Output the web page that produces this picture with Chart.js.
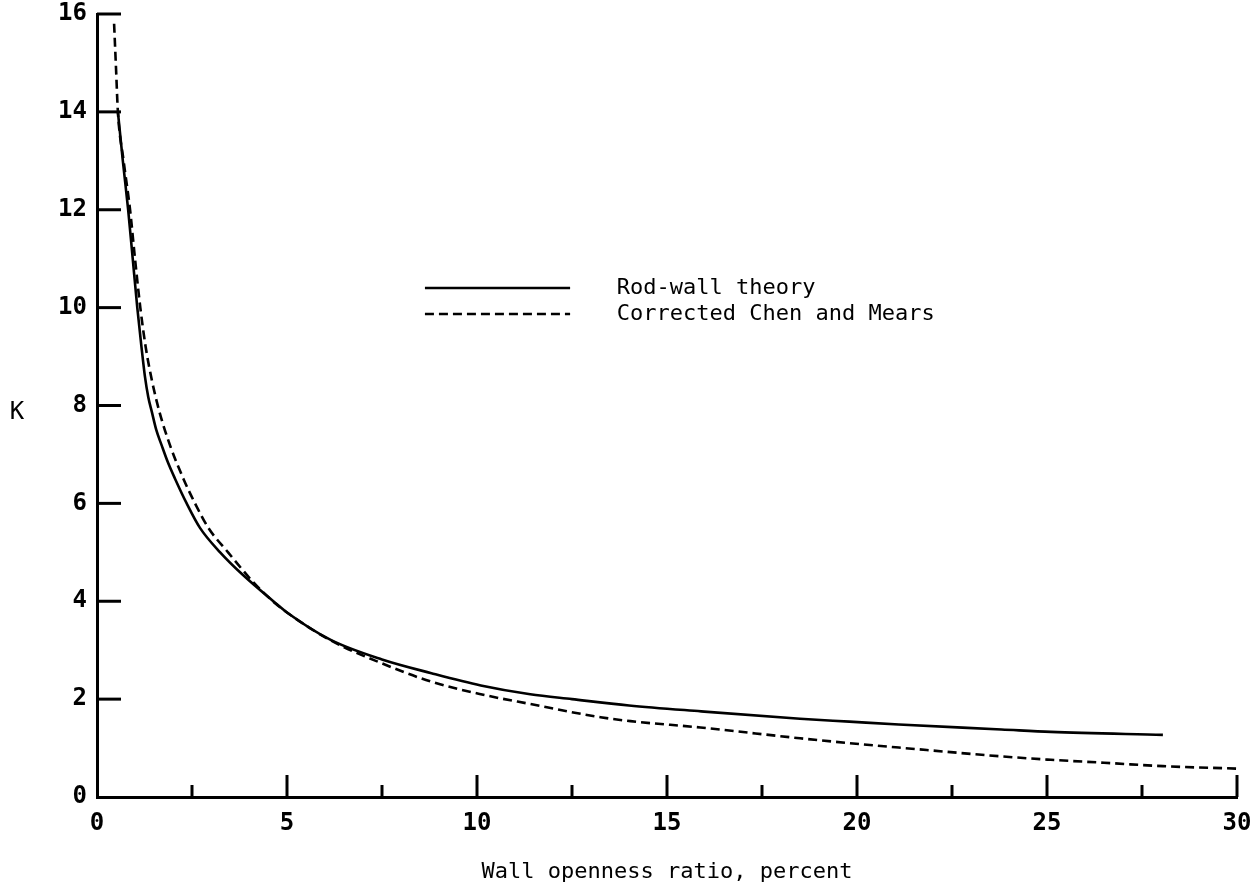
<!DOCTYPE html>
<html>
<head>
<meta charset="utf-8">
<script src="https://cdn.jsdelivr.net/npm/chart.js@4.4.1/dist/chart.umd.min.js"></script>
<style>
  html, body { margin: 0; padding: 0; background: #fff; }
  #wrap { width: 1255px; height: 885px; position: relative; }
</style>
</head>
<body>
<div id="wrap"><canvas id="c" width="1255" height="885"></canvas></div>
<script>
// ---- Data ----
const rodWallX = [0.55, 0.68, 0.82, 0.94, 1.06, 1.17, 1.26, 1.35, 1.44, 1.56, 1.70, 1.86, 2.05, 2.36, 2.71, 3.24, 3.85, 4.64, 5.0, 6.15, 7.5, 8.8, 10.1, 11.4, 12.5, 14.0, 15.9, 18.5, 19.8, 21.1, 23.8, 25.1, 28.05];
const rodWallK = [14.0, 13.0, 12.0, 11.0, 10.0, 9.2, 8.6, 8.17, 7.88, 7.5, 7.19, 6.85, 6.51, 6.0, 5.5, 5.0, 4.53, 4.0, 3.77, 3.21, 2.81, 2.53, 2.28, 2.1, 2.0, 1.87, 1.75, 1.6, 1.54, 1.48, 1.38, 1.33, 1.27];

const chenMearsX = [0.45, 0.5, 0.55, 0.7, 0.87, 1.0, 1.14, 1.28, 1.44, 1.64, 1.92, 2.27, 2.58, 2.93, 3.45, 4.1, 4.6, 5.0, 6.15, 7.47, 8.78, 10.1, 11.4, 13.25, 14.04, 15.88, 18.5, 19.8, 21.1, 23.8, 25.1, 26.5, 28.05, 30.0];
const chenMearsK = [15.8, 14.9, 14.0, 13.0, 12.0, 11.0, 10.0, 9.2, 8.53, 7.88, 7.19, 6.51, 6.0, 5.5, 5.0, 4.4, 4.02, 3.77, 3.2, 2.74, 2.36, 2.1, 1.9, 1.63, 1.55, 1.42, 1.2, 1.1, 1.01, 0.83, 0.76, 0.7, 0.63, 0.58];

const seriesLabels = ['Rod-wall theory', 'Corrected Chen and Mears'];
const xTickValues = [0, 5, 10, 15, 20, 25, 30];
const xMinorTickValues = [2.5, 7.5, 12.5, 17.5, 22.5, 27.5];
const yTickValues = [0, 2, 4, 6, 8, 10, 12, 14, 16];
const xAxisTitle = 'Wall openness ratio, percent';
const yAxisTitle = 'K';

// ---- Styling ----
const FONT = "'DejaVu Sans Mono', 'Liberation Mono', monospace";
const INK = '#000';

const toPoints = (xs, ys) => xs.map((x, i) => ({ x: x, y: ys[i] }));

const decorPlugin = {
  id: 'decor',
  afterDatasetsDraw(chart) {
    const ctx = chart.ctx;
    const xs = chart.scales.x, ys = chart.scales.y;
    const area = chart.chartArea;
    ctx.save();
    ctx.strokeStyle = INK;
    ctx.lineWidth = 3;
    ctx.lineCap = 'butt';
    // inward tick marks on the x axis
    const drawX = (v, len) => {
      const px = xs.getPixelForValue(v);
      ctx.beginPath();
      ctx.moveTo(px, area.bottom);
      ctx.lineTo(px, area.bottom - len);
      ctx.stroke();
    };
    xTickValues.forEach(v => { if (v !== 0) drawX(v, 22); });
    xMinorTickValues.forEach(v => drawX(v, 12));
    // inward tick marks on the y axis
    yTickValues.forEach(v => {
      if (v === 0) return;
      const py = ys.getPixelForValue(v);
      ctx.beginPath();
      ctx.moveTo(area.left, py);
      ctx.lineTo(area.left + 24, py);
      ctx.stroke();
    });

    // legend
    const lx1 = xs.getPixelForValue(8.63), lx2 = xs.getPixelForValue(12.45);
    const ly1 = ys.getPixelForValue(10.4), ly2 = ys.getPixelForValue(9.87);
    chart.data.datasets.forEach((ds, i) => {
      const ly = i === 0 ? ly1 : ly2;
      ctx.save();
      ctx.lineWidth = ds.borderWidth;
      ctx.setLineDash(ds.borderDash || []);
      ctx.beginPath();
      ctx.moveTo(lx1, ly);
      ctx.lineTo(lx2, ly);
      ctx.stroke();
      ctx.restore();
      ctx.fillStyle = INK;
      ctx.font = '22px ' + FONT;
      ctx.textAlign = 'left';
      ctx.textBaseline = 'middle';
      ctx.fillText(seriesLabels[i], xs.getPixelForValue(13.68), ly);
    });

    // horizontal K label on the left
    ctx.fillStyle = INK;
    ctx.font = '24px ' + FONT;
    ctx.textAlign = 'center';
    ctx.textBaseline = 'middle';
    ctx.fillText(yAxisTitle, 17, ys.getPixelForValue(7.85));
    ctx.restore();
  }
};

new Chart(document.getElementById('c'), {
  type: 'line',
  data: {
    datasets: [
      {
        label: seriesLabels[0],
        data: toPoints(rodWallX, rodWallK),
        borderColor: INK,
        borderWidth: 2.6,
        pointRadius: 0,
        fill: false,
        cubicInterpolationMode: 'monotone'
      },
      {
        label: seriesLabels[1],
        data: toPoints(chenMearsX, chenMearsK),
        borderColor: INK,
        borderWidth: 2.6,
        borderDash: [9, 5],
        pointRadius: 0,
        fill: false,
        cubicInterpolationMode: 'monotone'
      }
    ]
  },
  options: {
    responsive: false,
    animation: false,
    devicePixelRatio: 1,
    layout: { padding: { top: 14, right: 18, left: 0, bottom: 0 } },
    plugins: { legend: { display: false }, tooltip: { enabled: false } },
    scales: {
      x: {
        type: 'linear',
        min: 0, max: 30,
        afterBuildTicks: s => { s.ticks = xTickValues.map(v => ({ value: v })); },
        afterFit: s => { s.height = 88; s.paddingLeft = 0; s.paddingRight = 0; },
        grid: { display: true, drawOnChartArea: false, drawTicks: false },
        border: { display: true, color: INK, width: 3 },
        ticks: { color: INK, font: { family: FONT, size: 24, weight: 'bold' }, padding: 12, maxRotation: 0, autoSkip: false },
        title: { display: true, text: xAxisTitle, color: INK, font: { family: FONT, size: 22 }, padding: { top: 4, bottom: 0 } }
      },
      y: {
        type: 'linear',
        min: 0, max: 16,
        afterBuildTicks: s => { s.ticks = yTickValues.map(v => ({ value: v })); },
        afterFit: s => { s.width = 97; s.paddingTop = 0; s.paddingBottom = 0; },
        grid: { display: true, drawOnChartArea: false, drawTicks: false },
        border: { display: true, color: INK, width: 3 },
        ticks: { color: INK, font: { family: FONT, size: 24, weight: 'bold' }, padding: 10, autoSkip: false }
      }
    }
  },
  plugins: [decorPlugin]
});
</script>
</body>
</html>
